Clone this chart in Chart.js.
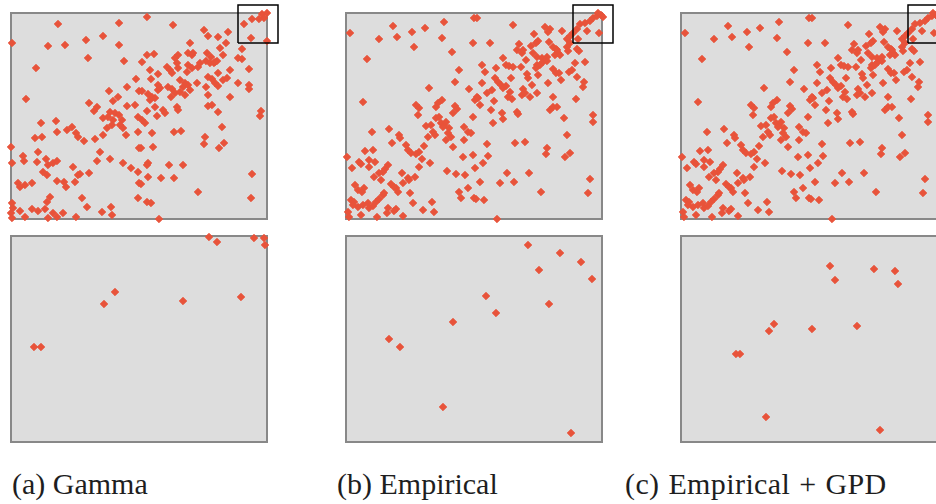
<!DOCTYPE html>
<html><head><meta charset="utf-8">
<script src="https://cdn.jsdelivr.net/npm/chart.js@4.4.0/dist/chart.umd.min.js"></script>
<style>
html,body{margin:0;padding:0;background:#fff;overflow:hidden;width:936px;height:504px;}
canvas{position:absolute;}
.cap{position:absolute;top:469px;font-family:"Liberation Serif","DejaVu Serif",serif;font-size:30px;line-height:30px;color:#1e1e1e;white-space:nowrap;}
</style></head><body>
<div class="cap" style="left:12px">(a) Gamma</div>
<div class="cap" style="left:337px">(b) Empirical</div>
<div class="cap" style="left:625px;letter-spacing:0.4px;word-spacing:1px">(c) Empirical + GPD</div>
<script>
// Captions
const captions = ['(a) Gamma', '(b) Empirical', '(c) Empirical + GPD'];

// Axis extents (arbitrary units)
const xRange = [0, 256];
const yRange = [0, 206];

// Highlighted extreme region (top-right box)
const tailBox = [[227,176],[267,176],[267,214],[227,214],[227,176]];

// Full sample, Gamma margins
const gammaBody = [
[47,195],[108,196],[1,176],[37,173],[54,174],[75,179],[92,183],[108,174],[77,161],[113,158],[25,151],[125,140],[15,120],[98,128],[116,132],[128,128],[107,122],[102,118],[78,116],[86,112],[83,108],[116,113],[124,114],[99,107],[104,106],[108,104],[92,101],[97,102],[102,99],[111,99],[127,102],[101,94],[96,91],[112,91],[109,94],[115,84],[127,87],[45,98],[30,96],[46,87],[56,89],[61,92],[65,86],[67,82],[73,78],[84,80],[92,84],[24,81],[31,82],[0,72],[27,67],[12,63],[13,58],[1,56],[26,57],[35,60],[37,54],[42,56],[46,58],[89,67],[86,58],[99,60],[112,56],[120,51],[127,47],[128,71],[62,52],[32,47],[36,44],[69,45],[78,46],[67,44],[46,38],[53,37],[55,32],[64,37],[7,36],[9,32],[14,34],[21,36],[128,36],[39,22],[36,17],[71,21],[76,12],[1,16],[2,11],[0,6],[1,1],[9,8],[14,2],[21,10],[27,8],[34,10],[37,1],[42,6],[46,2],[52,6],[65,2],[91,7],[100,12],[101,4],[127,21],
[136,202],[162,194],[193,189],[197,183],[207,182],[217,187],[215,176],[179,176],[233,195],[241,200],[251,205],[256,206],[248,200],[253,201],[240,181],[256,178],[231,170],[209,171],[212,164],[196,166],[200,162],[204,157],[227,161],[231,160],[238,150],[219,149],[227,136],[238,134],[238,130],[219,122],[207,107],[211,92],[250,108],[249,103],[194,82],[193,75],[213,76],[208,71],[241,45],[240,21],[187,27],[172,54],[163,41],[158,54],[150,41],[137,42],[130,35],[136,17],[140,16],[148,0],[137,56],[136,54],[142,72],[130,71],[141,86],[163,87],[170,88],[131,99],[134,96],[144,112],[146,103],[152,109],[154,106],[166,112],[167,109],[136,108],[131,128],[137,125],[141,122],[139,119],[144,121],[147,129],[149,131],[147,134],[157,132],[161,130],[160,122],[164,126],[169,127],[174,124],[172,132],[179,129],[177,134],[169,139],[174,136],[186,136],[195,132],[197,124],[197,113],[201,114],[197,142],[201,140],[204,136],[207,133],[212,139],[216,141],[207,146],[139,149],[140,140],[147,145],[156,152],[159,149],[161,146],[166,156],[167,151],[164,161],[167,164],[177,154],[176,147],[181,151],[187,152],[189,156],[177,166],[181,164],[182,166],[195,158],[199,156],[203,156],[206,158],[136,164],[143,165],[131,157]
];

// Full sample, empirical margins (shared by (b) and (c))
const empiricalBody = [
[4,186],[47,193],[33,180],[51,182],[66,187],[79,191],[98,197],[96,181],[68,172],[21,160],[106,167],[128,201],[127,176],[113,149],[109,137],[123,130],[83,131],[17,117],[70,114],[73,111],[72,104],[92,116],[96,119],[90,112],[109,113],[107,106],[111,110],[127,102],[129,119],[90,101],[93,102],[95,96],[98,94],[100,97],[97,92],[80,93],[85,94],[87,87],[89,84],[103,91],[102,86],[105,82],[100,79],[107,72],[118,92],[122,87],[125,86],[118,79],[82,82],[78,73],[73,67],[70,65],[60,74],[62,69],[65,66],[53,84],[54,81],[43,90],[46,76],[26,87],[19,68],[27,69],[1,62],[13,57],[15,55],[23,59],[23,52],[29,57],[6,51],[76,60],[73,52],[84,56],[101,48],[110,45],[119,44],[117,62],[127,64],[42,54],[39,50],[37,47],[33,46],[28,42],[35,39],[56,46],[62,41],[57,36],[69,42],[63,39],[45,35],[50,31],[52,27],[48,32],[9,34],[12,29],[18,31],[16,27],[64,26],[113,27],[115,21],[122,31],[128,21],[5,19],[8,17],[7,14],[12,12],[17,14],[22,16],[23,11],[27,13],[30,17],[33,20],[37,24],[38,26],[2,7],[3,2],[15,4],[31,2],[42,11],[41,6],[48,8],[50,10],[57,3],[67,16],[77,9],[86,17],[88,7],
[131,201],[167,194],[199,192],[204,190],[202,187],[216,188],[188,185],[192,178],[190,176],[203,177],[221,180],[224,183],[227,186],[231,190],[234,195],[239,196],[244,198],[247,201],[251,203],[255,204],[257,202],[252,206],[241,188],[253,186],[232,180],[144,176],[173,175],[171,169],[176,166],[177,169],[185,173],[187,166],[191,162],[207,172],[210,170],[212,166],[209,164],[214,164],[211,169],[221,172],[224,176],[222,168],[231,170],[233,168],[239,157],[229,156],[136,154],[139,147],[150,151],[157,161],[160,154],[163,153],[167,152],[175,152],[180,159],[191,154],[190,151],[196,161],[197,157],[194,154],[201,162],[201,158],[181,145],[182,141],[186,134],[192,144],[207,150],[210,146],[213,146],[215,139],[223,147],[226,149],[231,142],[238,137],[237,132],[165,141],[149,141],[152,137],[155,134],[157,131],[160,133],[136,136],[141,126],[146,129],[164,127],[162,122],[166,120],[177,130],[176,124],[179,126],[184,122],[191,126],[132,121],[134,114],[131,122],[148,118],[145,109],[156,106],[157,100],[147,96],[171,107],[172,105],[207,122],[204,109],[207,112],[211,112],[202,136],[218,101],[230,120],[247,104],[247,97],[141,75],[169,76],[179,77],[201,71],[200,65],[221,84],[224,66],[219,62],[142,63],[137,56],[129,51],[161,46],[183,46],[134,37],[154,36],[168,37],[244,40],[195,27],[242,26],[130,20],[138,19],[151,0]
];

// Tail region close-ups
const gammaTail = [[198,205],[206,200],[243,204],[253,204],[254,197],[104,150],[93,138],[172,141],[230,145],[23,95],[30,95]];
const empiricalTail = [[182,197],[214,189],[235,180],[193,172],[246,163],[140,146],[203,138],[150,129],[107,120],[43,103],[54,95],[97,35],[225,9]];
const gpdTail = [[149,176],[154,162],[193,173],[214,171],[217,158],[93,118],[88,111],[131,113],[176,116],[55,88],[59,88],[85,25],[199,12]];

const COLOR = '#e8533a';
const PAD = 14, W = 256, H = 206;
const panels = [
  {left:11,  top:13,  pts:gammaBody,     box:true},
  {left:346, top:13,  pts:empiricalBody, box:true},
  {left:681, top:13,  pts:empiricalBody, box:true},
  {left:11,  top:236, pts:gammaTail,     box:false},
  {left:346, top:236, pts:empiricalTail, box:false},
  {left:681, top:236, pts:gpdTail,       box:false}
];

const panelPlugin = {
  id:'panelBg',
  beforeDatasetsDraw(chart){
    const {ctx, chartArea:a} = chart;
    ctx.save();
    ctx.fillStyle = '#dddddd';
    ctx.fillRect(a.left, a.top, a.right - a.left, a.bottom - a.top);
    ctx.strokeStyle = '#888888';
    ctx.lineWidth = 2;
    ctx.strokeRect(a.left, a.top, a.right - a.left, a.bottom - a.top);
    ctx.restore();
  }
};

panels.forEach(p => {
  const c = document.createElement('canvas');
  c.width = W + 2*PAD; c.height = H + 2*PAD;
  c.style.left = (p.left - PAD) + 'px';
  c.style.top = (p.top - PAD) + 'px';
  c.style.width = c.width + 'px'; c.style.height = c.height + 'px';
  document.body.appendChild(c);
  const datasets = [{
    data: p.pts.map(([x,y]) => ({x,y})),
    pointStyle:'rectRot', pointRadius:3.8, pointHoverRadius:3.8,
    backgroundColor:COLOR, borderColor:COLOR, borderWidth:0.8,
    clip:false, order:1
  }];
  if (p.box) datasets.push({
    type:'line', showLine:true, data: tailBox.map(([x,y]) => ({x,y})),
    borderColor:'#000', borderWidth:1.5, pointRadius:0, fill:false, tension:0,
    clip:false, order:0
  });
  new Chart(c.getContext('2d'), {
    type:'scatter',
    data:{datasets},
    options:{
      responsive:false, animation:false, devicePixelRatio:1, events:[],
      layout:{padding:PAD},
      plugins:{legend:{display:false}, tooltip:{enabled:false}},
      scales:{
        x:{type:'linear', min:xRange[0], max:xRange[1], display:false},
        y:{type:'linear', min:yRange[0], max:yRange[1], display:false}
      }
    },
    plugins:[panelPlugin]
  });
});
</script>
</body></html>
